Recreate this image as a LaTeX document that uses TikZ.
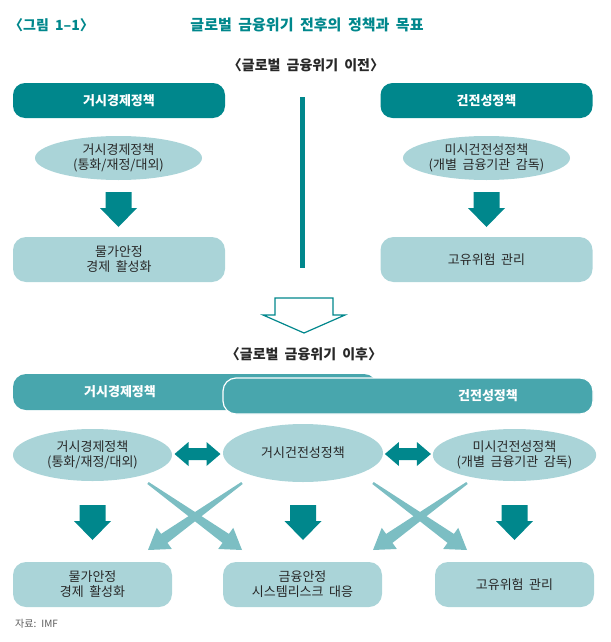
\documentclass[tikz,border=0pt]{standalone}
\usepackage{fontspec}
\setmainfont[WordSpace=1.9]{Noto Sans CJK KR}
\usepackage{tikz}
\definecolor{deepteal}{RGB}{0, 135, 140}
\definecolor{midteal}{RGB}{72, 166, 173}
\definecolor{paleteal}{RGB}{170, 212, 216}
\definecolor{crossteal}{RGB}{124, 190, 195}
\definecolor{darktext}{RGB}{40, 40, 40}
\definecolor{notegray}{RGB}{90, 90, 90}
\usetikzlibrary{shapes.geometric, calc}

\tikzset{
    headbox/.style={fill=deepteal, rounded corners=12pt, minimum width=212pt,
        minimum height=35pt, inner sep=0pt, text=white,
        font=\bfseries\fontsize{13}{15}\selectfont},
    barbox/.style={fill=midteal, rounded corners=13pt, minimum height=36pt,
        inner sep=0pt},
    bartext/.style={inner sep=0pt, text=white,
        font=\bfseries\fontsize{13}{15}\selectfont},
    policyell/.style={ellipse, fill=paleteal, minimum width=167pt,
        minimum height=44pt, inner sep=0pt, align=center, text=darktext,
        font=\fontsize{13}{15}\selectfont},
    goalbox/.style={fill=paleteal, rounded corners=13pt, minimum width=212pt,
        minimum height=45pt, inner sep=0pt, align=center, text=darktext,
        font=\fontsize{13}{15}\selectfont},
    blockdown/.pic={
        \fill[deepteal] (-13,0) -- (13,0) -- (13,16) -- (18.5,16) -- (0,35)
            -- (-18.5,16) -- (-13,16) -- cycle;},
    blockboth/.pic={
        \fill[deepteal] (-23,0) -- (-9,-12) -- (-9,-6) -- (9,-6) -- (9,-12)
            -- (23,0) -- (9,12) -- (9,6) -- (-9,6) -- (-9,12) -- cycle;},
    blockhollow/.pic={
        \draw[deepteal, line width=1.2pt, fill=white] (-29,0) -- (29,0)
            -- (29,17) -- (41,17) -- (0,35) -- (-41,17) -- (-29,17) -- cycle;}
}

% tapered arrow from #1 to #2
\newcommand\crossarrow[2]{%
    \coordinate (neck) at ($(#2)!20pt!(#1)$);
    \fill[crossteal] ($(#1)!1.2pt!90:(#2)$) -- ($(neck)!5.5pt!90:(#2)$)
        -- ($(neck)!13pt!90:(#2)$) -- (#2) -- ($(neck)!13pt!-90:(#2)$)
        -- ($(neck)!5.5pt!-90:(#2)$) -- ($(#1)!1.2pt!-90:(#2)$) -- cycle;}

\begin{document}
\begin{tikzpicture}[x=1pt, y=-1pt]
    \useasboundingbox (0,0) rectangle (610,642);

    % titles
    \node[anchor=west, inner sep=0pt, text=deepteal,
          font=\bfseries\fontsize{14}{16}\selectfont] (fignum) at (9,25) {〈그림 1–1〉};
    \node[inner sep=0pt, text=deepteal,
          font=\bfseries\fontsize{15}{17}\selectfont] (figtitle) at (307,25)
          {글로벌 금융위기 전후의 정책과 목표};
    \node[inner sep=0pt, text=darktext,
          font=\bfseries\fontsize{14}{16}\selectfont] (before) at (306,65)
          {〈글로벌 금융위기 이전〉};

    % before the crisis
    \node[headbox] (macrohead) at (119,100.5) {거시경제정책};
    \node[headbox] (prudhead) at (486.5,100.5) {건전성정책};
    \node[policyell] (macroell) at (118.5,158) {거시경제정책\\(통화/재정/대외)};
    \node[policyell] (microell) at (486.5,158) {미시건전성정책\\(개별 금융기관 감독)};
    \node[goalbox] (pricegoal) at (119,259.5) {물가안정\\경제 활성화};
    \node[goalbox] (riskgoal) at (486.5,259.5) {고유위험 관리};
    \pic at (118.5,192) {blockdown};
    \pic at (486.5,192) {blockdown};
    \draw[deepteal, line width=4.5pt] (302.5,97) -- (302.5,268);

    \pic at (304,298) {blockhollow};
    \node[inner sep=0pt, text=darktext,
          font=\bfseries\fontsize{14}{16}\selectfont] (after) at (304,354)
          {〈글로벌 금융위기 이후〉};

    % after the crisis
    \node[barbox, minimum width=364pt] (macrobar) at (195,392) {};
    \node[bartext] (macrobartext) at (120,392) {거시경제정책};
    \node[barbox, draw=white, line width=1.2pt, minimum width=370pt] (prudbar)
          at (408,396) {};
    \node[bartext] (prudbartext) at (488,396) {건전성정책};

    \node[policyell, minimum width=159pt, minimum height=52pt] (macroell2)
          at (92.5,455) {거시경제정책\\(통화/재정/대외)};
    \node[policyell, minimum width=160pt, minimum height=58pt] (mpell)
          at (303,453) {거시건전성정책};
    \node[policyell, minimum width=159pt, minimum height=52pt] (microell2)
          at (514.5,455) {미시건전성정책\\(개별 금융기관 감독)};

    \coordinate (linkl) at ($(macroell2.east)!0.5!(mpell.west)$);
    \coordinate (linkr) at ($(mpell.east)!0.5!(microell2.west)$);
    \pic at (linkl) {blockboth};
    \pic at (linkr) {blockboth};

    \node[goalbox, minimum width=159pt] (pricegoal2) at (92.5,584.5) {물가안정\\경제 활성화};
    \node[goalbox, minimum width=159pt] (stabgoal) at (302.5,584.5) {금융안정\\시스템리스크 대응};
    \node[goalbox, minimum width=159pt] (riskgoal2) at (514.5,584.5) {고유위험 관리};

    \pic at (92.5,505) {blockdown};
    \pic at (303,505) {blockdown};
    \pic at (514.5,505) {blockdown};

    \coordinate (xa) at (148,483);
    \coordinate (xb) at (242,483);
    \coordinate (xc) at (373,483);
    \coordinate (xd) at (467,483);
    \coordinate (ya) at (148,550);
    \coordinate (yb) at (242,550);
    \coordinate (yc) at (373,550);
    \coordinate (yd) at (467,550);
    \crossarrow{xa}{yb}
    \crossarrow{xb}{ya}
    \crossarrow{xc}{yd}
    \crossarrow{xd}{yc}

    \node[anchor=west, inner sep=0pt, text=notegray,
          font=\fontsize{10}{12}\selectfont] (source) at (15,624) {자료: IMF};
\end{tikzpicture}
\end{document}
